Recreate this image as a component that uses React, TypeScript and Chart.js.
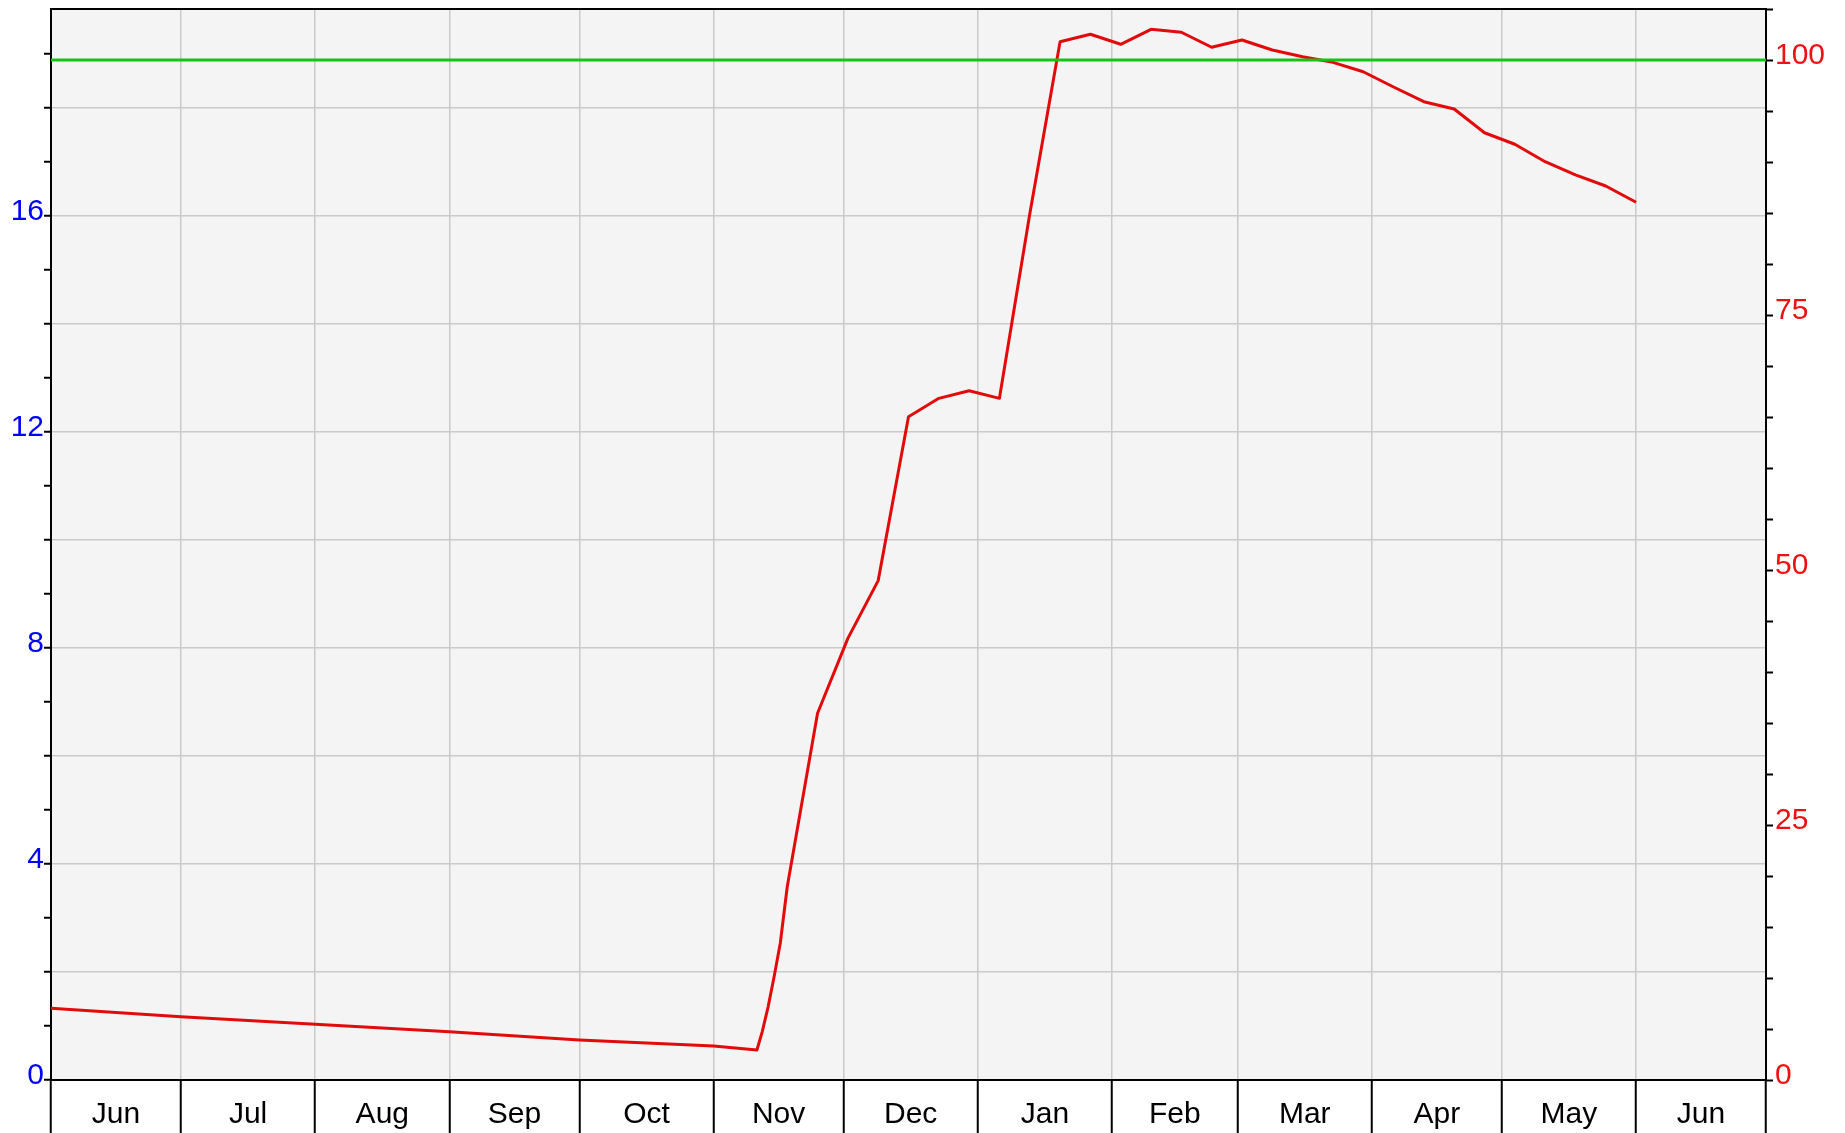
import React, { useEffect, useRef } from 'react';
import { Chart, registerables } from 'chart.js';

Chart.register(...registerables);

// Days since Jun 1 (year 1) to month starts; leap February
const monthBoundaries = [0, 30, 61, 92, 122, 153, 183, 214, 245, 274, 305, 335, 366, 396];
const monthLabels = ['Jun', 'Jul', 'Aug', 'Sep', 'Oct', 'Nov', 'Dec', 'Jan', 'Feb', 'Mar', 'Apr', 'May', 'Jun'];

// Red series (right axis)
const seriesDays = [0, 30, 61, 92, 122, 153, 163, 164.2, 165.6, 167, 168.4, 170, 177, 184, 191, 198, 205, 212, 219, 226, 233, 240, 247, 254, 261, 268, 275, 282, 289, 296, 303, 310, 317, 324, 331, 338, 345, 352, 359, 366];
const seriesValues = [7.03, 6.21, 5.46, 4.74, 3.92, 3.33, 2.94, 4.7, 7.2, 10.2, 13.43, 18.95, 35.95, 43.3, 48.96, 65.03, 66.83, 67.58, 66.83, 84.9, 101.79, 102.52, 101.54, 103.01, 102.72, 101.25, 101.96, 100.98, 100.32, 99.77, 98.85, 97.35, 95.91, 95.2, 92.87, 91.74, 90.03, 88.73, 87.65, 86.05];

const targetValue = 100;

const leftTicks = [0, 1, 2, 3, 4, 5, 6, 7, 8, 9, 10, 11, 12, 13, 14, 15, 16, 17, 18, 19];
const leftLabelled = [0, 4, 8, 12, 16];
const leftMax = 19.833;
const rightTicks = [0, 5, 10, 15, 20, 25, 30, 35, 40, 45, 50, 55, 60, 65, 70, 75, 80, 85, 90, 95, 100, 105];
const rightLabelled = [0, 25, 50, 75, 100];
const rightMax = 105;

const FONT = "'Liberation Sans', Arial, Helvetica, sans-serif";

export default function App() {
  const ref = useRef<HTMLCanvasElement>(null);

  useEffect(() => {
    const canvas = ref.current;
    if (!canvas) return;

    const mids = monthLabels.map((_, i) => (monthBoundaries[i] + monthBoundaries[i + 1]) / 2);
    const labelMap = new Map<number, string>();
    mids.forEach((m, i) => labelMap.set(m, monthLabels[i]));
    const boundarySet = new Set(monthBoundaries);
    const xTicks = [...monthBoundaries, ...mids].sort((a, b) => a - b);

    const zeroPad = (scale: any) => {
      scale.paddingTop = 0;
      scale.paddingBottom = 0;
      scale.paddingLeft = 0;
      scale.paddingRight = 0;
    };

    const areaPlugin = {
      id: 'areaPlugin',
      beforeDraw(chart: any) {
        const { ctx, chartArea: a } = chart;
        ctx.save();
        ctx.fillStyle = '#ffffff';
        ctx.fillRect(0, 0, chart.width, chart.height);
        ctx.fillStyle = '#f4f4f4';
        ctx.fillRect(a.left, a.top, a.right - a.left, a.bottom - a.top);
        ctx.restore();
      },
      afterDraw(chart: any) {
        const { ctx, chartArea: a } = chart;
        ctx.save();
        ctx.strokeStyle = '#000';
        ctx.lineWidth = 2;
        ctx.beginPath();
        ctx.moveTo(a.left - 1, a.top);
        ctx.lineTo(a.right + 1, a.top);
        ctx.stroke();
        ctx.restore();
      },
    };

    const chart = new Chart(canvas, {
      type: 'line',
      data: {
        datasets: [
          {
            label: 'Target',
            data: [
              { x: monthBoundaries[0], y: targetValue },
              { x: monthBoundaries[monthBoundaries.length - 1], y: targetValue },
            ],
            borderColor: '#14c314',
            borderWidth: 3,
            pointRadius: 0,
            xAxisID: 'x',
            yAxisID: 'y1',
          },
          {
            label: 'Series',
            data: seriesDays.map((d, i) => ({ x: d, y: seriesValues[i] })),
            borderColor: '#e20a0a',
            borderWidth: 3,
            pointRadius: 0,
            tension: 0,
            borderJoinStyle: 'round',
            xAxisID: 'x',
            yAxisID: 'y1',
          },
        ],
      },
      options: {
        animation: false,
        responsive: false,
        devicePixelRatio: 1,
        layout: { padding: { top: 9, left: 0, right: 0, bottom: 0 } },
        plugins: { legend: { display: false }, tooltip: { enabled: false } },
        scales: {
          x: {
            type: 'linear',
            position: 'bottom',
            min: monthBoundaries[0],
            max: monthBoundaries[monthBoundaries.length - 1],
            afterBuildTicks: (scale: any) => {
              scale.ticks = xTicks.map((v) => ({ value: v }));
            },
            afterFit: (scale: any) => {
              scale.height = 53;
              zeroPad(scale);
            },
            grid: {
              color: (ctx: any) => (ctx.tick && boundarySet.has(ctx.tick.value) ? '#cacaca' : 'rgba(0,0,0,0)'),
              lineWidth: 1.5,
              tickColor: (ctx: any) => (ctx.tick && boundarySet.has(ctx.tick.value) ? '#000' : 'rgba(0,0,0,0)'),
              tickLength: 53,
              tickWidth: 2,
            },
            border: { color: '#000', width: 2 },
            ticks: {
              autoSkip: false,
              maxRotation: 0,
              minRotation: 0,
              padding: -36,
              color: '#000',
              font: { family: FONT, size: 30 },
              callback: (v: any) => labelMap.get(Number(v)) ?? '',
            },
          },
          y: {
            type: 'linear',
            position: 'left',
            min: 0,
            max: leftMax,
            afterBuildTicks: (scale: any) => {
              scale.ticks = leftTicks.map((v) => ({ value: v }));
            },
            afterFit: (scale: any) => {
              scale.width = 51;
              zeroPad(scale);
            },
            grid: {
              color: (ctx: any) => (ctx.tick && ctx.tick.value % 2 === 0 ? '#cacaca' : 'rgba(0,0,0,0)'),
              lineWidth: 1.5,
              tickColor: '#000',
              tickLength: 7,
              tickWidth: 2,
            },
            border: { color: '#000', width: 2 },
            ticks: {
              autoSkip: false,
              padding: 0,
              labelOffset: -4,
              color: '#0000ff',
              font: { family: FONT, size: 30 },
              callback: (v: any) => (leftLabelled.includes(Number(v)) ? String(v) : ''),
            },
          },
          y1: {
            type: 'linear',
            position: 'right',
            min: 0,
            max: rightMax,
            afterBuildTicks: (scale: any) => {
              scale.ticks = rightTicks.map((v) => ({ value: v }));
            },
            afterFit: (scale: any) => {
              scale.width = 79;
              zeroPad(scale);
            },
            grid: {
              drawOnChartArea: false,
              color: '#000',
              tickColor: '#000',
              tickLength: 7,
              tickWidth: 2,
            },
            border: { color: '#000', width: 2 },
            ticks: {
              autoSkip: false,
              padding: 2,
              labelOffset: -4,
              color: '#ee1111',
              font: { family: FONT, size: 30 },
              callback: (v: any) => (rightLabelled.includes(Number(v)) ? String(v) : ''),
            },
          },
        },
      },
      plugins: [areaPlugin],
    } as any);

    return () => chart.destroy();
  }, []);

  return (
    <div style={{ position: 'fixed', left: 0, top: 0, width: 1845, height: 1133, background: '#fff' }}>
      <canvas ref={ref} width={1845} height={1133} style={{ display: 'block', width: 1845, height: 1133 }} />
    </div>
  );
}
